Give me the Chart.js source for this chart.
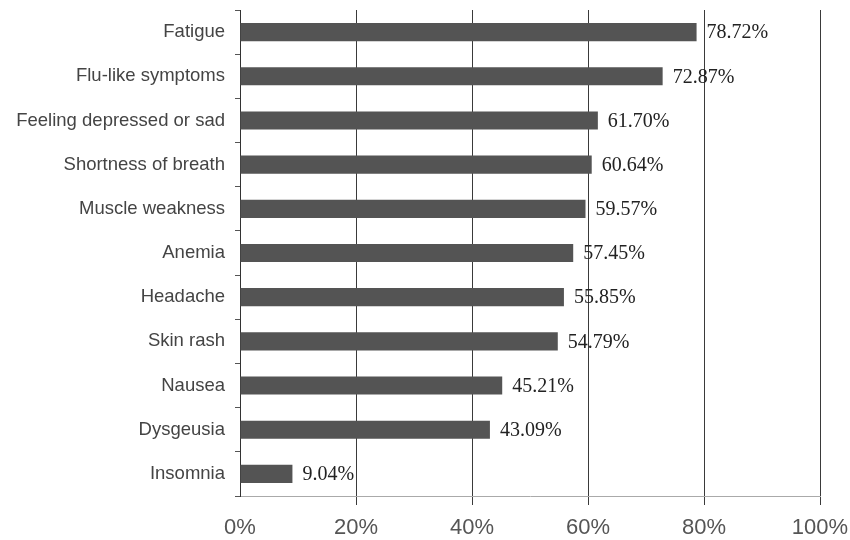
<!DOCTYPE html>
<html>
<head>
<meta charset="utf-8">
<script src="https://cdn.jsdelivr.net/npm/chart.js@4/dist/chart.umd.min.js"></script>
<style>
html,body{margin:0;padding:0;background:#fff;}
#wrap{width:850px;height:540px;}
</style>
</head>
<body>
<div id="wrap"><canvas id="c" width="850" height="540"></canvas></div>
<script>
const categories = ["Fatigue","Flu-like symptoms","Feeling depressed or sad","Shortness of breath","Muscle weakness","Anemia","Headache","Skin rash","Nausea","Dysgeusia","Insomnia"];
const values = [78.72,72.87,61.70,60.64,59.57,57.45,55.85,54.79,45.21,43.09,9.04];
const xTicks = [0,20,40,60,80,100];

const labelPlugin = {
  id:'valueLabels',
  afterDatasetsDraw(chart){
    const ctx = chart.ctx;
    const meta = chart.getDatasetMeta(0);
    ctx.save();
    ctx.font = '20px "Liberation Serif", serif';
    ctx.fillStyle = '#222';
    ctx.textAlign = 'left';
    ctx.textBaseline = 'middle';
    meta.data.forEach((bar,i)=>{
      ctx.fillText(values[i].toFixed(2)+'%', bar.x+10, bar.y+1);
    });
    ctx.restore();
  }
};

new Chart(document.getElementById('c'),{
  type:'bar',
  data:{labels:categories,datasets:[{data:values,backgroundColor:'#545454',borderWidth:0,barPercentage:0.82,categoryPercentage:0.5}]},
  options:{
    indexAxis:'y',
    responsive:false,
    animation:false,
    layout:{padding:{top:10,right:30,left:0,bottom:0}},
    plugins:{legend:{display:false},tooltip:{enabled:false}},
    scales:{
      x:{
        min:0,max:100,
        afterBuildTicks(s){ s.ticks = xTicks.map(v=>({value:v})); },
        afterFit(s){ s.height = 44; s.paddingLeft = 0; s.paddingRight = 0; },
        border:{display:true,color:'#aaa',width:1},
        grid:{display:true,drawOnChartArea:true,drawTicks:true,tickLength:9,
          color:(c)=> c.index===0 ? 'rgba(0,0,0,0)' : '#3a3a3a', lineWidth:1},
        ticks:{callback:(v)=>v+'%',font:{family:'"Liberation Sans", Arial, sans-serif',size:22},color:'#555',padding:10}
      },
      y:{
        afterFit(s){ s.width = 240; s.paddingTop = 0; s.paddingBottom = 0; },
        border:{display:true,color:'#333',width:1},
        grid:{display:true,drawOnChartArea:false,drawTicks:true,tickLength:5,color:'#555',offset:true},
        ticks:{font:{family:'"Liberation Sans", Arial, sans-serif',size:18.5},color:'#444',padding:10}
      }
    }
  },
  plugins:[labelPlugin]
});
</script>
</body>
</html>
